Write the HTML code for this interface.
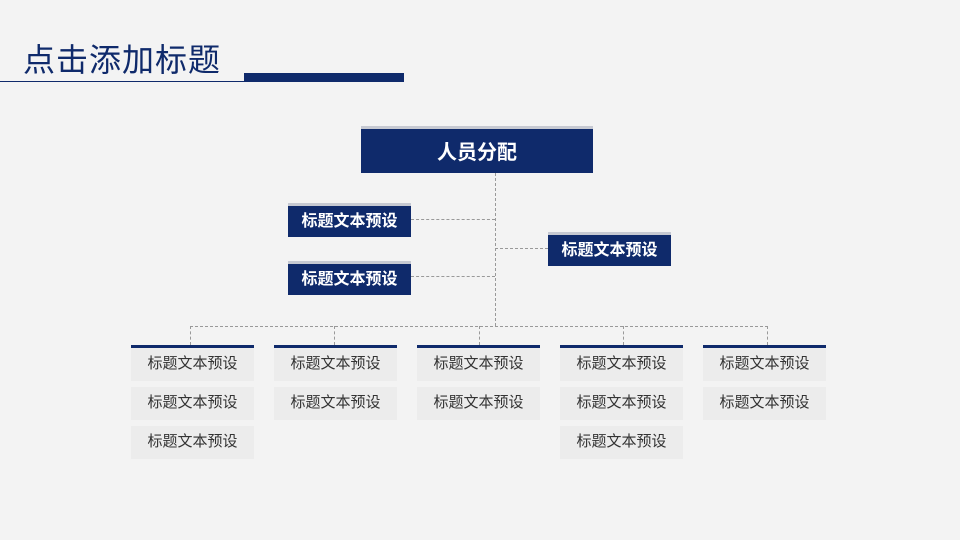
<!DOCTYPE html>
<html><head><meta charset="utf-8"><style>
body{margin:0;width:960px;height:540px;overflow:hidden;background:#f3f3f3;position:relative;font-family:"Liberation Sans","Noto Sans CJK SC",sans-serif}
div{position:absolute;box-sizing:border-box}
.t{left:23px;top:35px;font-size:32px;color:#0f2a6b;letter-spacing:1px}
.nb{background:#0f2a6b;color:#fff;font-weight:bold;text-align:center;border-top:3px solid #c6c9d2;font-size:16px}
.g{background:#ececec;color:#333;font-size:15px;text-align:center;width:123px;height:33px;line-height:31px}
.bar{background:#0f2a6b;height:3px;width:123px;top:345px}
.h{border-top:1px dashed #999;height:0}
.v{border-left:1px dashed #999;width:0}
</style></head><body>
<div class="t">点击添加标题</div>
<div style="left:0;top:81px;width:245px;height:1px;background:#0f2a6b"></div>
<div style="left:244px;top:73px;width:160px;height:9px;background:#0f2a6b"></div>

<div class="v" style="left:495px;top:173px;height:153px"></div>
<div class="h" style="left:411px;top:219px;width:84px"></div>
<div class="h" style="left:411px;top:276px;width:84px"></div>
<div class="h" style="left:495px;top:248px;width:53px"></div>
<div class="h" style="left:190px;top:326px;width:578px"></div>
<div class="v" style="left:190px;top:326px;height:19px"></div>
<div class="v" style="left:334px;top:326px;height:19px"></div>
<div class="v" style="left:479px;top:326px;height:19px"></div>
<div class="v" style="left:623px;top:326px;height:19px"></div>
<div class="v" style="left:767px;top:326px;height:19px"></div>

<div class="nb" style="left:361px;top:126px;width:232px;height:47px;line-height:48px;font-size:20px">人员分配</div>
<div class="nb" style="left:288px;top:203px;width:123px;height:34px;line-height:32px">标题文本预设</div>
<div class="nb" style="left:288px;top:261px;width:123px;height:34px;line-height:32px">标题文本预设</div>
<div class="nb" style="left:548px;top:232px;width:123px;height:34px;line-height:32px">标题文本预设</div>

<div class="bar" style="left:131px"></div>
<div class="bar" style="left:274px"></div>
<div class="bar" style="left:417px"></div>
<div class="bar" style="left:560px"></div>
<div class="bar" style="left:703px"></div>

<div class="g" style="left:131px;top:348px">标题文本预设</div>
<div class="g" style="left:131px;top:387px">标题文本预设</div>
<div class="g" style="left:131px;top:426px">标题文本预设</div>
<div class="g" style="left:274px;top:348px">标题文本预设</div>
<div class="g" style="left:274px;top:387px">标题文本预设</div>
<div class="g" style="left:417px;top:348px">标题文本预设</div>
<div class="g" style="left:417px;top:387px">标题文本预设</div>
<div class="g" style="left:560px;top:348px">标题文本预设</div>
<div class="g" style="left:560px;top:387px">标题文本预设</div>
<div class="g" style="left:560px;top:426px">标题文本预设</div>
<div class="g" style="left:703px;top:348px">标题文本预设</div>
<div class="g" style="left:703px;top:387px">标题文本预设</div>
</body></html>
